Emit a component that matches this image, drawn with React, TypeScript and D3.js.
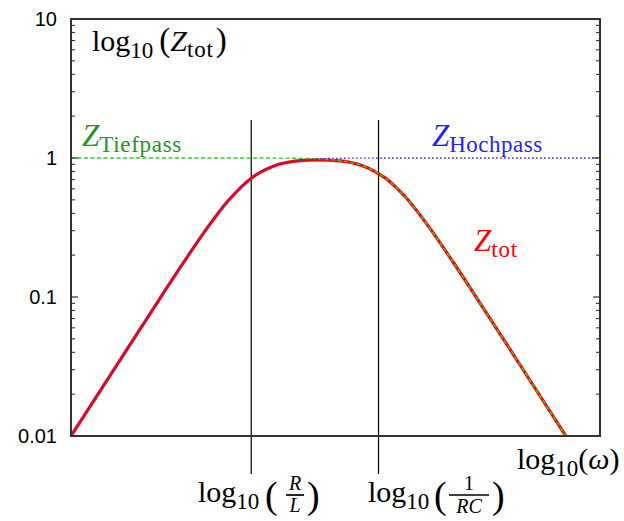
import React from "react";
import * as d3 from "d3";

// log10(omega) sample positions and the magnitudes
const logOmega = [0, 0.5, 1, 1.25, 1.5, 1.75, 1.875, 2, 2.125, 2.25, 2.5, 2.75, 3, 3.25, 3.375, 3.5, 3.625, 3.75, 4, 4.25, 4.5, 5, 5.52];
const zTot = [0.01, 0.0316, 0.0995, 0.1751, 0.3015, 0.49, 0.598, 0.7068, 0.798, 0.8703, 0.9492, 0.9707, 0.9525, 0.8796, 0.809, 0.7225, 0.615, 0.5074, 0.3143, 0.1831, 0.1042, 0.0331, 0.01];
const zTiefpass = [1, 1, 1, 1, 1, 0.9998, 0.9997, 0.9995, 0.9992, 0.9986, 0.9955, 0.9859, 0.9573, 0.881, 0.81, 0.7232, 0.615, 0.5074, 0.3143, 0.1831, 0.1042, 0.0331, 0.01];
const logOmegaHoch = [0, 0.5, 1, 1.25, 1.5, 1.75, 1.875, 2, 2.125, 2.25, 2.5, 2.75, 3, 3.25, 3.5, 3.75, 4, 5, 5.9];
const zHochpass = [0.01, 0.0316, 0.0995, 0.1751, 0.3015, 0.4902, 0.5985, 0.7071, 0.799, 0.8716, 0.9535, 0.9846, 0.995, 0.9984, 0.999, 1, 1, 1, 1];

// axis ranges and tick labels
const xDomain = [0, 5.9];
const yDomain = [0.01, 10];
const yTickValues = [0.01, 0.1, 1, 10];
const yTickLabels = ["0.01", "0.1", "1", "10"];
// marker lines for the corner frequencies R/L and 1/RC
const cornerMarks = [2.01, 3.43];

const W = 624;
const H = 521;
const left = 71;
const right = 600;
const top = 19;
const bottom = 436;

const serif = "'Liberation Serif', 'Times New Roman', serif";
const sans = "'Liberation Sans', Arial, sans-serif";

export default function App() {
  const x = d3.scaleLinear().domain(xDomain).range([left, right]);
  const y = d3.scaleLog().domain(yDomain).range([bottom, top]);

  const line = d3
    .line<[number, number]>()
    .x((d) => x(d[0]))
    .y((d) => y(d[1]))
    .curve(d3.curveMonotoneX);

  const totPath = line(logOmega.map((u, i) => [u, zTot[i]]) as [number, number][]) || "";
  const tiefPath = line(logOmega.map((u, i) => [u, zTiefpass[i]]) as [number, number][]) || "";
  const hochPath = line(logOmegaHoch.map((u, i) => [u, zHochpass[i]]) as [number, number][]) || "";

  // minor ticks 2..9 within each decade
  const minor: number[] = [];
  for (let e = -2; e < 1; e++) {
    for (let m = 2; m <= 9; m++) minor.push(m * Math.pow(10, e));
  }

  const axisColor = "#333";

  return (
    <svg width={W} height={H} style={{ position: "absolute", left: 0, top: 0, background: "#fff" }}>
      <rect width={W} height={H} fill="#fff" />

      {/* corner-frequency markers */}
      {cornerMarks.map((u, i) => (
        <line key={"c" + i} x1={x(u)} x2={x(u)} y1={120} y2={474} stroke="#000" strokeWidth={1.2} />
      ))}

      {/* curves */}
      <defs>
        <clipPath id="plotArea">
          <rect x={left} y={top} width={right - left} height={bottom - top} />
        </clipPath>
      </defs>
      <g clipPath="url(#plotArea)" fill="none">
        <path d={totPath} stroke="#ff0000" strokeWidth={3.2} />
        <path d={tiefPath} stroke="#33cc33" strokeWidth={1.4} strokeDasharray="4,2.5" />
        <path d={hochPath} stroke="#3030f0" strokeWidth={1.4} strokeDasharray="1.6,2.4" />
      </g>

      {/* ticks on left and right axes */}
      {yTickValues.map((v, i) => (
        <g key={"t" + i}>
          <line x1={left} x2={left + 7} y1={y(v)} y2={y(v)} stroke={axisColor} strokeWidth={1.2} />
          <line x1={right} x2={right - 7} y1={y(v)} y2={y(v)} stroke={axisColor} strokeWidth={1.2} />
          <text x={57} y={y(v) + 7} textAnchor="end" fontFamily={sans} fontSize={20} fill="#000">
            {yTickLabels[i]}
          </text>
        </g>
      ))}
      {minor.map((v, i) => (
        <g key={"m" + i}>
          <line x1={left} x2={left + 4} y1={y(v)} y2={y(v)} stroke={axisColor} strokeWidth={1.1} />
          <line x1={right} x2={right - 4} y1={y(v)} y2={y(v)} stroke={axisColor} strokeWidth={1.1} />
        </g>
      ))}

      {/* frame */}
      <rect x={left} y={top} width={right - left} height={bottom - top} fill="none" stroke={axisColor} strokeWidth={2} />

      {/* title */}
      <text x={92} y={51} fontFamily={serif} fontSize={30} fill="#000">
        log
        <tspan fontSize={23} dy={7}>10</tspan>
        <tspan dy={-7} dx={6} fontSize={33}>(</tspan>
        <tspan fontStyle="italic" fontSize={30}>Z</tspan>
        <tspan fontSize={23} dy={6} letterSpacing={0.8}>tot</tspan>
        <tspan dy={-6} dx={2} fontSize={33}>)</tspan>
      </text>

      {/* curve labels */}
      <text x={82} y={146} fontFamily={serif} fontSize={31} fill="#1e961e">
        <tspan fontStyle="italic">Z</tspan>
        <tspan fontSize={23} dy={6} letterSpacing={0.7}>Tiefpass</tspan>
      </text>
      <text x={432} y={146} fontFamily={serif} fontSize={31} fill="#1f1fff">
        <tspan fontStyle="italic">Z</tspan>
        <tspan fontSize={23} dy={6} letterSpacing={0.5}>Hochpass</tspan>
      </text>
      <text x={474} y={251} fontFamily={serif} fontSize={31} fill="#ff0000">
        <tspan fontStyle="italic">Z</tspan>
        <tspan fontSize={23} dy={6} letterSpacing={0.8}>tot</tspan>
      </text>

      {/* x-axis label */}
      <text x={517} y={469} fontFamily={serif} fontSize={30} fill="#000">
        log
        <tspan fontSize={23} dy={7}>10</tspan>
        <tspan dy={-7}>(</tspan>
        <tspan fontStyle="italic">ω</tspan>
        <tspan>)</tspan>
      </text>

      {/* corner labels */}
      <g fontFamily={serif} fill="#000">
        <text x={198} y={502} fontSize={30}>
          log<tspan fontSize={23} dy={7}>10</tspan>
        </text>
        <text x={265} y={508} fontSize={38}>(</text>
        <text x={295} y={490} fontSize={20} fontStyle="italic" textAnchor="middle">R</text>
        <line x1={286} x2={304} y1={495} y2={495} stroke="#000" strokeWidth={1.7} />
        <text x={295} y={512} fontSize={20} fontStyle="italic" textAnchor="middle">L</text>
        <text x={307} y={508} fontSize={38}>)</text>

        <text x={368} y={502} fontSize={30}>
          log<tspan fontSize={23} dy={7}>10</tspan>
        </text>
        <text x={434} y={508} fontSize={38}>(</text>
        <text x={469} y={490} fontSize={20} textAnchor="middle">1</text>
        <line x1={449} x2={489} y1={495} y2={495} stroke="#000" strokeWidth={1.7} />
        <text x={469} y={513} fontSize={20} fontStyle="italic" textAnchor="middle">RC</text>
        <text x={492} y={508} fontSize={38}>)</text>
      </g>
    </svg>
  );
}
